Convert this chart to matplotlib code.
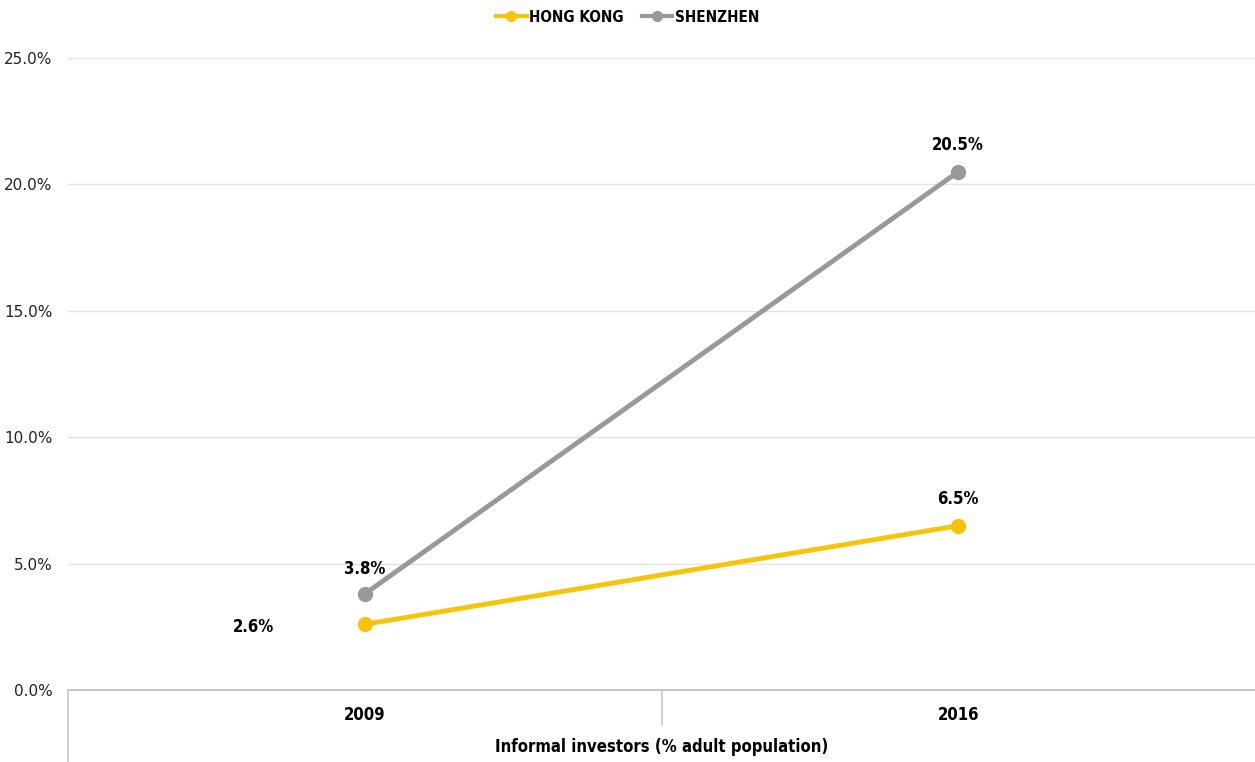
import matplotlib
matplotlib.use("Agg")
import matplotlib.pyplot as plt
from matplotlib.lines import Line2D

categories = ["2009", "2016"]
hong_kong = [2.6, 6.5]
shenzhen = [3.8, 20.5]
yticks = [0, 5, 10, 15, 20, 25]
series_names = ["HONG KONG", "SHENZHEN"]
axis_title = "Informal investors (% adult population)"

YELLOW = "#F8C40A"
GREY = "#999999"
bold = dict(family="DejaVu Sans", weight="bold", stretch="condensed")

fig = plt.figure(figsize=(12.55, 7.62), dpi=100)
ax = fig.add_axes([68/1255, 72/762, 1187/1255, 632/762])
x = list(range(len(categories)))
ax.plot(x, shenzhen, color=GREY, lw=3.5, marker="o", ms=10, zorder=3, solid_capstyle="round")
ax.plot(x, hong_kong, color=YELLOW, lw=3.5, marker="o", ms=10, zorder=4, solid_capstyle="round")

ax.set_xlim(-0.5, 1.5)
ax.set_ylim(0, 25)
ax.set_yticks(yticks)
ax.set_yticklabels([f"{t:.1f}%" for t in yticks], fontsize=11, color="#222222")
ax.set_xticks([])
ax.grid(axis="y", color="#e3e3e3", lw=1)
ax.set_axisbelow(True)
for s in ["top", "right", "left"]:
    ax.spines[s].set_visible(False)
ax.spines["bottom"].set_color("#c8c8c8")
ax.spines["bottom"].set_linewidth(1.5)
ax.tick_params(axis="y", length=0, pad=11)

# data labels
ax.annotate(f"{hong_kong[0]}%", (x[0], hong_kong[0]), xytext=(-80, -2), textcoords="offset points",
            ha="center", va="center", fontsize=12, **bold)
ax.annotate(f"{shenzhen[0]}%", (x[0], shenzhen[0]), xytext=(0, 18), textcoords="offset points",
            ha="center", va="center", fontsize=12, **bold)
ax.annotate(f"{hong_kong[1]}%", (x[1], hong_kong[1]), xytext=(0, 19), textcoords="offset points",
            ha="center", va="center", fontsize=12, **bold)
ax.annotate(f"{shenzhen[1]}%", (x[1], shenzhen[1]), xytext=(0, 19), textcoords="offset points",
            ha="center", va="center", fontsize=12, **bold)

# category table below axis
tr = ax.get_xaxis_transform()
for i, c in enumerate(categories):
    ax.text(x[i], -0.04, c, transform=tr, ha="center", va="center", fontsize=12, **bold)
ax.plot([-0.5, -0.5], [0, -0.112], transform=tr, color="#c8c8c8", lw=1.2, clip_on=False)
ax.plot([0.5, 0.5], [0, -0.055], transform=tr, color="#c8c8c8", lw=1.2, clip_on=False)
ax.text(0.5, -0.09, axis_title, transform=ax.transAxes, ha="center", va="center", fontsize=12, **bold)

handles = [Line2D([0], [0], color=YELLOW, lw=3, marker="o", ms=7),
           Line2D([0], [0], color=GREY, lw=3, marker="o", ms=7)]
leg = fig.legend(handles, series_names, loc="center", bbox_to_anchor=(0.5, 1 - 17/762), ncol=2,
                 frameon=False, handlelength=2.0, columnspacing=1.2, handletextpad=0.15,
                 prop=dict(family="DejaVu Sans", weight="bold", stretch="condensed", size=11))

fig.savefig("out.png", dpi=100)
